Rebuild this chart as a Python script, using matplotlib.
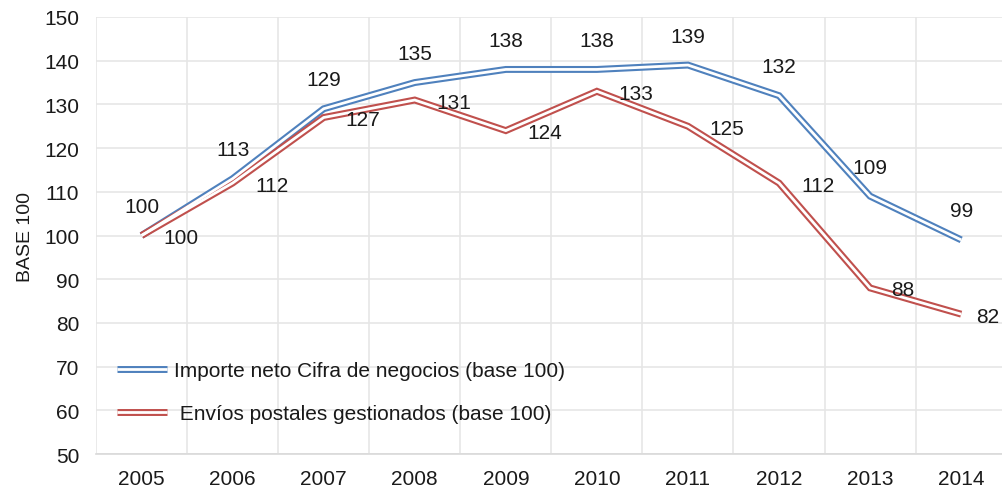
import matplotlib
matplotlib.use('Agg')
import matplotlib.pyplot as plt
from matplotlib.lines import Line2D
import numpy as np

plt.rcParams['font.family'] = ['Liberation Sans', 'DejaVu Sans']

years = ['2005', '2006', '2007', '2008', '2009', '2010', '2011', '2012', '2013', '2014']
importe = [100, 113, 129, 135, 138, 138, 139, 132, 109, 99]
envios = [100, 112, 127, 131, 124, 133, 125, 112, 88, 82]

lbl_importe = 'Importe neto Cifra de negocios (base 100)'
lbl_envios = ' Envíos postales gestionados (base 100)'

azul = '#4F81BD'
rojo = '#C0504D'
fs = 15
lw_ext = 5.0
lw_int = 2.0

fig = plt.figure(figsize=(10.03, 4.89), dpi=100)
ax = fig.add_axes([0.0957, 0.0695, 0.908, 0.8937])

x = np.arange(len(years))

# lineas dobles: trazo grueso de color y trazo blanco encima
for serie, col in [(importe, azul), (envios, rojo)]:
    ax.plot(x, serie, color=col, lw=lw_ext, solid_joinstyle='miter',
            solid_capstyle='butt', zorder=3)
    ax.plot(x, serie, color='white', lw=lw_int, solid_joinstyle='miter',
            solid_capstyle='butt', zorder=4)

for i, v in enumerate(importe):
    ax.annotate(str(v), (x[i], v), xytext=(0, 29), textcoords='offset pixels',
                ha='center', va='center', fontsize=fs, color='#1a1a1a', zorder=5)
for i, v in enumerate(envios):
    dx = 39 if i < 8 else (33 if i == 8 else 27)
    ax.annotate(str(v), (x[i], v), xytext=(dx, -2), textcoords='offset pixels',
                ha='center', va='center', fontsize=fs, color='#1a1a1a', zorder=5,
                annotation_clip=False)

ax.set_xlim(-0.5, len(years) - 0.5)
ax.set_ylim(50, 150)
ax.set_yticks(np.arange(50, 151, 10))
ax.set_xticks(x)
ax.set_xticklabels(years)
ax.set_xticks(np.arange(-0.5, len(years), 1), minor=True)

ax.grid(True, which='major', axis='y', color='#e6e6e6', lw=1.2)
ax.grid(True, which='minor', axis='x', color='#e6e6e6', lw=1.2)
ax.set_axisbelow(True)
for s in ['top', 'right', 'left']:
    ax.spines[s].set_visible(False)
ax.spines['bottom'].set_color('#d9d9d9')
ax.spines['bottom'].set_linewidth(1.2)
ax.tick_params(which='both', length=0, labelsize=fs, colors='#1a1a1a')
ax.tick_params(axis='x', pad=11)
ax.tick_params(axis='y', pad=12)
ax.set_ylabel('BASE 100', fontsize=fs - 1, color='#1a1a1a', labelpad=7)

h1 = (Line2D([], [], color=azul, lw=lw_ext, solid_capstyle='butt'),
      Line2D([], [], color='white', lw=lw_int, solid_capstyle='butt'))
h2 = (Line2D([], [], color=rojo, lw=lw_ext, solid_capstyle='butt'),
      Line2D([], [], color='white', lw=lw_int, solid_capstyle='butt'))
ax.legend([h1, h2], [lbl_importe, lbl_envios], loc='upper left',
          bbox_to_anchor=(0.003, 0.255), frameon=False, fontsize=fs,
          handlelength=2.4, handletextpad=0.3, labelspacing=1.15,
          labelcolor='#1a1a1a')

fig.savefig('out.png', dpi=100)
